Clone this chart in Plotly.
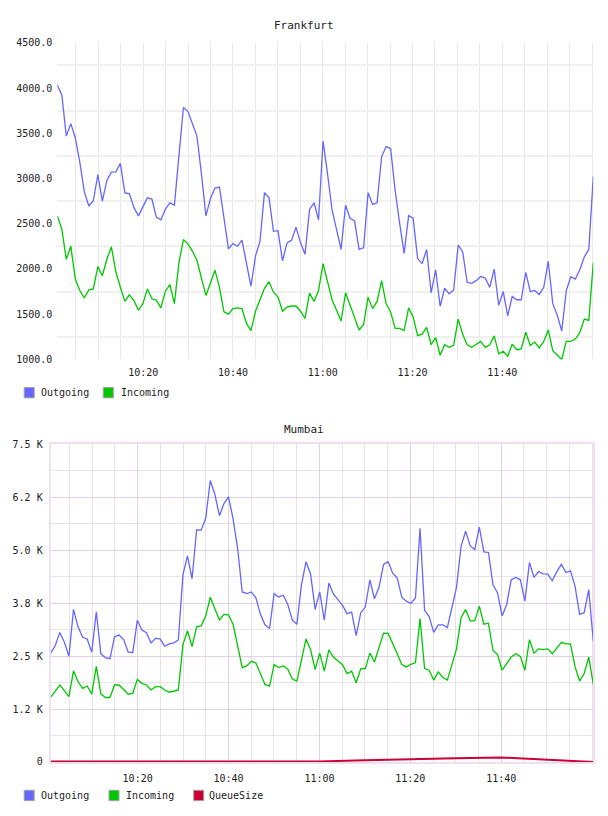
import plotly.graph_objects as go
from datetime import datetime, timedelta

# ---------------- data ----------------
START = datetime(2013, 1, 1, 10, 0, 52)
STEP_S = 60.2
N = 120
times = [START + timedelta(seconds=STEP_S * i) for i in range(N)]

fra_outgoing = [
    4032, 3923, 3469, 3607, 3451, 3179, 2852, 2696, 2754, 3044,
    2750, 2979, 3070, 3073, 3168, 2841, 2834, 2681, 2587, 2688,
    2786, 2772, 2572, 2543, 2663, 2732, 2706, 3250, 3785, 3742,
    3614, 3469, 3051, 2587, 2779, 2895, 2906, 2561, 2223, 2281,
    2252, 2318, 2071, 1809, 2143, 2307, 2844, 2786, 2416, 2423,
    2089, 2289, 2318, 2463, 2289, 2162, 2659, 2732, 2543, 3415,
    3051, 2652, 2434, 2216, 2706, 2561, 2532, 2216, 2234, 2844,
    2714, 2732, 3240, 3353, 3331, 2870, 2507, 2172, 2590, 2561,
    2115, 2060, 2216, 1737, 1991, 1588, 1787, 1726, 1769, 2263,
    2191, 1853, 1842, 1871, 1918, 1900, 1798, 1998, 1599, 1751,
    1482, 1697, 1660, 1660, 1962, 1751, 1762, 1719, 1798, 2085,
    1617, 1490, 1315, 1762, 1915, 1889, 1991, 2133, 2216, 3022,
]
fra_incoming = [
    2587, 2441, 2107, 2252, 1889, 1762, 1679, 1769, 1780, 2027,
    1925, 2107, 2245, 1969, 1798, 1642, 1715, 1653, 1544, 1617,
    1780, 1671, 1653, 1570, 1755, 1827, 1617, 2071, 2325, 2278,
    2198, 2096, 1900, 1708, 1846, 1987, 1798, 1526, 1501, 1562,
    1570, 1562, 1399, 1319, 1533, 1671, 1787, 1860, 1744, 1689,
    1533, 1580, 1591, 1591, 1533, 1453, 1733, 1642, 1762, 2060,
    1860, 1660, 1544, 1424, 1737, 1606, 1479, 1326, 1388, 1689,
    1562, 1642, 1871, 1617, 1526, 1344, 1344, 1319, 1570, 1471,
    1264, 1279, 1355, 1163, 1243, 1047, 1163, 1134, 1156, 1446,
    1279, 1163, 1134, 1170, 1199, 1134, 1163, 1261, 1062, 1091,
    1036, 1170, 1108, 1116, 1301, 1156, 1192, 1127, 1199, 1326,
    1098, 1047, 1000, 1199, 1199, 1225, 1297, 1446, 1432, 2071,
]
mum_outgoing = [
    2570, 2748, 3059, 2826, 2492, 3602, 3191, 2943, 2904, 2593,
    3548, 2554, 2461, 2438, 2958, 2997, 2888, 2593, 2585, 3346,
    3113, 3051, 2811, 2919, 2904, 2733, 2787, 2811, 2880, 4418,
    4868, 4325, 5481, 5474, 5753, 6646, 6320, 5815, 6102, 6258,
    5738, 5039, 4014, 3975, 4014, 3874, 3486, 3238, 3152, 3975,
    3897, 3936, 3719, 3346, 3253, 4185, 4728, 4433, 3602, 4014,
    3346, 4224, 3967, 3820, 3696, 3502, 3540, 2981, 3525, 3657,
    4301, 3851, 4123, 4666, 4728, 4457, 4340, 3890, 3797, 3742,
    3874, 5520, 3579, 3432, 3059, 3238, 3238, 3176, 3657, 4123,
    5093, 5450, 5101, 5016, 5544, 4961, 4946, 4185, 3991, 3447,
    3719, 4301, 4356, 4301, 3797, 4713, 4356, 4495, 4441, 4433,
    4278, 4495, 4666, 4472, 4511, 4146, 3486, 3525, 4068, 2849,
]
mum_incoming = [
    1530, 1661, 1817, 1685, 1545, 2151, 1894, 1739, 1793, 1607,
    2259, 1607, 1522, 1522, 1817, 1817, 1716, 1599, 1623, 1949,
    1856, 1817, 1700, 1778, 1778, 1700, 1646, 1677, 1700, 2772,
    3098, 2725, 3191, 3214, 3447, 3890, 3602, 3354, 3486, 3471,
    3250, 2748, 2228, 2267, 2376, 2337, 2073, 1832, 1793, 2298,
    2228, 2267, 2189, 1957, 1910, 2415, 2904, 2648, 2182, 2570,
    2143, 2648, 2477, 2384, 2298, 2088, 2143, 1871, 2205, 2205,
    2570, 2360, 2725, 3043, 3036, 2811, 2554, 2298, 2244, 2306,
    2345, 3385, 2205, 2166, 1933, 2127, 1995, 1933, 2298, 2671,
    3408, 3602, 3331, 3331, 3680, 3253, 3276, 2632, 2539, 2166,
    2321, 2477, 2554, 2492, 2166, 2888, 2570, 2671, 2655, 2671,
    2554, 2694, 2826, 2787, 2787, 2244, 1910, 2088, 2477, 1832,
]
queue_times = ["2013-01-01 10:00:52", "2013-01-01 10:30:00", "2013-01-01 11:00:00",
               "2013-01-01 11:10:00", "2013-01-01 11:20:00", "2013-01-01 11:30:00",
               "2013-01-01 11:40:00", "2013-01-01 11:50:00", "2013-01-01 12:00:16"]
queue_size = [10, 8, 12, 40, 68, 88, 105, 55, 0]

x_tick_vals = ["2013-01-01 10:20", "2013-01-01 10:40", "2013-01-01 11:00",
               "2013-01-01 11:20", "2013-01-01 11:40"]
x_tick_text = ["10:20", "10:40", "11:00", "11:20", "11:40"]
fra_y_vals = [1000, 1500, 2000, 2500, 3000, 3500, 4000, 4500]
fra_y_text = ["1000.0", "1500.0", "2000.0", "2500.0", "3000.0", "3500.0", "4000.0", "4500.0"]
mum_y_vals = [0, 1250, 2500, 3750, 5000, 6250, 7500]
mum_y_text = ["0", "1.2 K", "2.5 K", "3.8 K", "5.0 K", "6.2 K", "7.5 K"]

# ---------------- styling ----------------
W, H = 608, 816
C_OUT = "#6666ff"
C_IN = "#00c800"
C_Q = "#cc0033"
FONT = "DejaVu Sans Mono"
TXT = "#222222"


def fx(px):
    return px / W


def fy(py):
    return 1 - py / H


fig = go.Figure()
fig.add_trace(go.Scatter(x=times, y=fra_outgoing, mode="lines", name="Outgoing",
                         line=dict(color=C_OUT, width=1.3), xaxis="x", yaxis="y"))
fig.add_trace(go.Scatter(x=times, y=fra_incoming, mode="lines", name="Incoming",
                         line=dict(color=C_IN, width=1.3), xaxis="x", yaxis="y"))
fig.add_trace(go.Scatter(x=times, y=mum_outgoing, mode="lines", name="Outgoing",
                         line=dict(color=C_OUT, width=1.3), xaxis="x2", yaxis="y2"))
fig.add_trace(go.Scatter(x=times, y=mum_incoming, mode="lines", name="Incoming",
                         line=dict(color=C_IN, width=1.3), xaxis="x2", yaxis="y2"))
fig.add_trace(go.Scatter(x=queue_times, y=queue_size, mode="lines", name="QueueSize",
                         line=dict(color=C_Q, width=2), xaxis="x2", yaxis="y2"))

tickfont = dict(family=FONT, size=10, color=TXT)
xr = [times[0], times[-1]]

GRID_T = "#e8e8e8"
GRID_MAJ = "#e4d0e4"
GRID_MIN = "#e6e2e6"
FRAME = "#eee0ee"

fig.update_layout(
    width=W, height=H, margin=dict(l=0, r=0, t=0, b=0),
    paper_bgcolor="white", plot_bgcolor="white", showlegend=False,
    xaxis=dict(domain=[fx(57.3), fx(593.3)], anchor="y", type="date", range=xr,
               tickmode="array", tickvals=x_tick_vals, ticktext=x_tick_text,
               showgrid=True, gridcolor=GRID_T, gridwidth=1, zeroline=False,
               showline=False, ticks="", tickfont=tickfont, ticklabelstandoff=6,
               minor=dict(tick0="2013-01-01 10:00", dtick=300000, showgrid=True,
                          gridcolor=GRID_T, gridwidth=1)),
    yaxis=dict(domain=[fy(358.3), fy(37.3)], anchor="x", range=[1000, 4500],
               tickmode="array", tickvals=fra_y_vals, ticktext=fra_y_text,
               showgrid=False, zeroline=False, showline=False, ticks="",
               tickfont=tickfont, ticklabelstandoff=4,
               minor=dict(tick0=1250, dtick=500, showgrid=True,
                          gridcolor="#f0f0f0", gridwidth=2)),
    xaxis2=dict(domain=[fx(50.7), fx(593.3)], anchor="y2", type="date", range=xr,
                tickmode="array", tickvals=x_tick_vals, ticktext=x_tick_text,
                showgrid=True, gridcolor=GRID_MAJ, gridwidth=1.2, zeroline=False,
                showline=True, mirror=True, linecolor=FRAME, linewidth=2,
                ticks="", tickfont=tickfont, ticklabelstandoff=6,
                minor=dict(tick0="2013-01-01 10:00", dtick=300000, showgrid=True,
                           gridcolor=GRID_MIN, gridwidth=1)),
    yaxis2=dict(domain=[fy(766.3), fy(444.3)], anchor="x2", range=[0, 7500],
                tickmode="array", tickvals=mum_y_vals, ticktext=mum_y_text,
                showgrid=True, gridcolor=GRID_MAJ, gridwidth=1.2, zeroline=False,
                showline=True, mirror=True, linecolor=FRAME, linewidth=2,
                ticks="", tickfont=tickfont, ticklabelstandoff=4,
                minor=dict(tick0=625, dtick=1250, showgrid=True,
                           gridcolor=GRID_MIN, gridwidth=1)),
)

annotations = [
    dict(text="Frankfurt", x=0.5, y=fy(20), xref="paper", yref="paper",
         showarrow=False, xanchor="center", yanchor="middle",
         font=dict(family=FONT, size=11, color=TXT)),
    dict(text="Mumbai", x=0.5, y=fy(429), xref="paper", yref="paper",
         showarrow=False, xanchor="center", yanchor="middle",
         font=dict(family=FONT, size=11, color=TXT)),
]
shapes = []


def legend_item(x0, ytop, color, label, tx):
    shapes.append(dict(type="rect", xref="paper", yref="paper",
                       x0=fx(x0), x1=fx(x0 + 10), y0=fy(ytop + 10.5), y1=fy(ytop),
                       fillcolor=color, line=dict(color="#a0a0a0", width=1)))
    annotations.append(dict(text=label, x=fx(tx), y=fy(ytop + 5.3), xref="paper",
                            yref="paper", showarrow=False, xanchor="left",
                            yanchor="middle",
                            font=dict(family=FONT, size=10, color=TXT)))


legend_item(24.2, 386.7, C_OUT, "Outgoing", 38.5)
legend_item(103.3, 386.7, C_IN, "Incoming", 118.5)
legend_item(24.2, 795, C_OUT, "Outgoing", 38.5)
legend_item(109, 795, C_IN, "Incoming", 124.2)
legend_item(193.7, 795, C_Q, "QueueSize", 207.2)

fig.update_layout(annotations=annotations, shapes=shapes)
fig.write_html("out.html")
